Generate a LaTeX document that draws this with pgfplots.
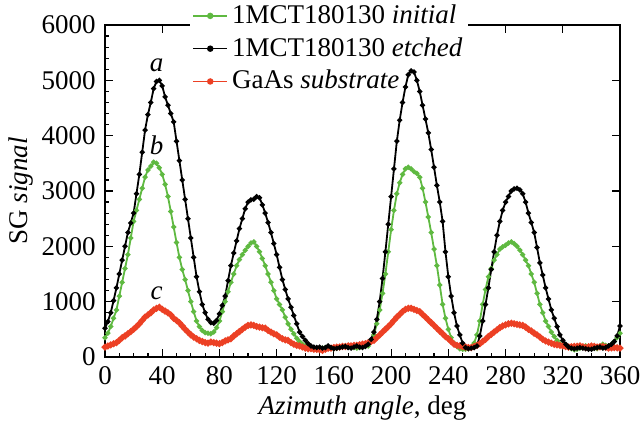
\documentclass[border=0pt]{standalone}
\usepackage{fontspec}
\setmainfont{Liberation Serif}
\usepackage{pgfplots}
\usepackage{pgfplotstable}
\pgfplotsset{compat=1.18}
\definecolor{cgreen}{RGB}{95,185,65}
\definecolor{cred}{RGB}{236,64,36}
\pgfplotstableread{
x y
0 350
2 430
4 550
6 700
8 850
10 1100
12 1350
14 1600
16 1850
18 2150
20 2450
22 2650
24 2850
26 3050
28 3250
30 3380
32 3450
34 3520
36 3500
38 3420
40 3300
42 3120
44 2900
46 2630
48 2350
50 2070
52 1800
54 1580
56 1400
58 1200
60 1000
62 820
64 650
66 550
68 480
70 440
72 430
74 420
76 450
78 530
80 650
82 820
84 1000
86 1180
88 1350
90 1500
92 1650
94 1760
96 1850
98 1930
100 2000
102 2060
104 2080
106 2000
108 1900
110 1780
112 1650
114 1500
116 1350
118 1200
120 1050
122 950
124 850
126 720
128 600
130 500
132 420
134 340
136 280
138 230
140 200
142 170
144 150
146 140
148 130
150 150
152 160
154 170
156 180
158 160
160 150
162 160
164 170
166 190
168 200
170 190
172 180
174 170
176 160
178 170
180 190
182 190
184 200
186 280
188 400
190 600
192 850
194 1150
196 1500
198 1900
200 2300
202 2650
204 2950
206 3150
208 3300
210 3400
212 3430
214 3400
216 3350
218 3320
220 3250
222 3050
224 2800
226 2530
228 2250
230 1950
232 1650
234 1300
236 950
238 700
240 500
242 350
244 250
246 190
248 150
250 140
252 140
254 150
256 180
258 250
260 400
262 650
264 950
266 1220
268 1450
270 1600
272 1750
274 1850
276 1950
278 1990
280 2020
282 2060
284 2080
286 2050
288 2000
290 1930
292 1850
294 1750
296 1650
298 1500
300 1350
302 1150
304 950
306 800
308 650
310 550
312 450
314 370
316 300
318 240
320 200
322 180
324 170
326 150
328 130
330 140
332 160
334 180
336 200
338 190
340 180
342 160
344 150
346 190
348 230
350 210
352 200
354 230
356 280
358 350
360 430
}\initial
\pgfplotstableread{
x y
0 520
2 640
4 800
6 1020
8 1250
10 1500
12 1750
14 2000
16 2250
18 2420
20 2600
22 2950
24 3300
26 3700
28 4100
30 4380
32 4600
34 4850
36 4980
38 5000
40 4900
42 4700
44 4550
46 4400
48 4250
50 3900
52 3550
54 3200
56 2850
58 2500
60 2150
62 1800
64 1450
66 1180
68 950
70 800
72 680
74 620
76 610
78 660
80 780
82 930
84 1100
86 1380
88 1650
90 1880
92 2100
94 2320
96 2500
98 2680
100 2800
102 2840
104 2850
106 2900
108 2880
110 2750
112 2600
114 2430
116 2250
118 2050
120 1850
122 1620
124 1400
126 1220
128 1050
130 900
132 750
134 600
136 450
138 370
140 300
142 240
144 200
146 180
148 170
150 180
152 160
154 170
156 200
158 170
160 150
162 160
164 170
166 180
168 190
170 170
172 160
174 180
176 200
178 180
180 170
182 190
184 230
186 320
188 450
190 680
192 1000
194 1420
196 1900
198 2400
200 2900
202 3400
204 3900
206 4280
208 4600
210 4880
212 5100
214 5170
216 5150
218 5000
220 4800
222 4550
224 4300
226 4050
228 3750
230 3430
232 3100
234 2800
236 2450
238 1900
240 1450
242 1100
244 800
246 560
248 400
250 250
252 170
254 150
256 160
258 170
260 200
262 380
264 650
266 950
268 1250
270 1580
272 1900
274 2200
276 2450
278 2650
280 2800
282 2900
284 3000
286 3040
288 3050
290 3020
292 2950
294 2800
296 2600
298 2430
300 2250
302 1980
304 1700
306 1480
308 1250
310 1050
312 850
314 700
316 550
318 400
320 300
322 230
324 180
326 160
328 150
330 160
332 170
334 160
336 150
338 140
340 140
342 160
344 170
346 180
348 160
350 170
352 200
354 230
356 280
358 380
360 560
}\etched
\pgfplotstableread{
x y
0 180
2 200
4 220
6 240
8 260
10 300
12 350
14 380
16 420
18 460
20 500
22 550
24 600
26 660
28 720
30 760
32 800
34 850
36 880
38 900
40 860
42 830
44 800
46 760
48 700
50 660
52 620
54 560
56 500
58 450
60 400
62 360
64 330
66 300
68 280
70 260
72 250
74 270
76 260
78 250
80 240
82 260
84 290
86 310
88 330
90 380
92 420
94 460
96 500
98 540
100 570
102 580
104 570
106 550
108 540
110 530
112 520
114 480
116 450
118 420
120 400
122 360
124 330
126 310
128 300
130 260
132 230
134 210
136 200
138 180
140 160
142 150
144 150
146 140
148 140
150 130
152 120
154 140
156 160
158 160
160 170
162 180
164 180
166 190
168 190
170 200
172 200
174 210
176 210
178 220
180 230
182 240
184 260
186 280
188 300
190 350
192 400
194 450
196 500
198 550
200 600
202 660
204 720
206 770
208 820
210 860
212 880
214 880
216 860
218 840
220 820
222 770
224 720
226 670
228 620
230 570
232 520
234 470
236 420
238 370
240 330
242 280
244 230
246 210
248 200
250 190
252 180
254 170
256 170
258 190
260 210
262 240
264 280
266 320
268 370
270 410
272 450
274 490
276 530
278 560
280 580
282 600
284 610
286 600
288 590
290 580
292 570
294 540
296 500
298 470
300 430
302 400
304 360
306 320
308 290
310 270
312 250
314 230
316 220
318 210
320 200
322 190
324 180
326 185
328 190
330 195
332 200
334 185
336 170
338 185
340 200
342 190
344 180
346 185
348 190
350 175
352 160
354 165
356 170
358 165
360 160
}\substrate
\begin{document}
\fontsize{13.5}{16}\selectfont
\begin{tikzpicture}
\useasboundingbox (-52.5pt,-34.5pt) rectangle (267.5pt,178.5pt);
\pgfplotsset{common/.style={scale only axis, width=257.5pt, height=166pt,
  xmin=0, xmax=360, ymin=0, ymax=6000,
  xtick={0,40,...,360}, ytick={0,1000,...,6000},
  /pgf/number format/assume math mode=true,
  /pgf/number format/1000 sep={},
  scaled y ticks=false,
  ticklabel style={font=\fontsize{13.5}{16}\selectfont},
  label style={font=\fontsize{13.5}{16}\selectfont}}}
\begin{axis}[common, tick pos=both, major tick length=4pt,
  tick style={black, line width=0.6pt}, axis line style={line width=1pt},
  xlabel={\textit{Azimuth angle}, deg},
  ylabel={SG \textit{signal}},
  xlabel style={at={(axis description cs:0.5,-0.155)}, anchor=center},
  ylabel style={at={(axis description cs:-0.163,0.5)}, anchor=center},
  legend cell align=left,
  legend style={at={(axis description cs:0.165,1.075)}, anchor=north west,
    draw=none, fill=white, inner xsep=1pt, inner ysep=0pt, row sep=1pt,
    font=\fontsize{13.5}{16}\selectfont}]
\addlegendimage{cgreen, line width=0.8pt, mark=*, mark size=1.2pt}
\addlegendentry{1MCT180130 \textit{initial}}
\addlegendimage{black, line width=0.8pt, mark=*, mark size=1.2pt}
\addlegendentry{1MCT180130 \textit{etched}}
\addlegendimage{cred, line width=0.8pt, mark=*, mark size=1.2pt}
\addlegendentry{GaAs \textit{substrate}}
\end{axis}
\begin{axis}[common, axis line style={draw=none}, tick pos=left,
  major tick length=0pt, minor tick length=2.2pt,
  minor x tick num=3, minor y tick num=4,
  tick style={black, line width=0.6pt},
  xticklabels={}, yticklabels={}]
\addplot[cgreen, line width=0.9pt, mark=*, mark size=0.8pt] table {\initial};
\addplot[cred, line width=1.4pt, mark=*, mark size=0.9pt] table {\substrate};
\addplot[black, line width=0.9pt, mark=*, mark size=0.8pt] table {\etched};
\node[font=\fontsize{13.5}{16}\selectfont\itshape] at (axis cs:36,5280) {a};
\node[font=\fontsize{13.5}{16}\selectfont\itshape] at (axis cs:36,3830) {b};
\node[font=\fontsize{13.5}{16}\selectfont\itshape] at (axis cs:36,1160) {c};
\end{axis}
\end{tikzpicture}
\end{document}
